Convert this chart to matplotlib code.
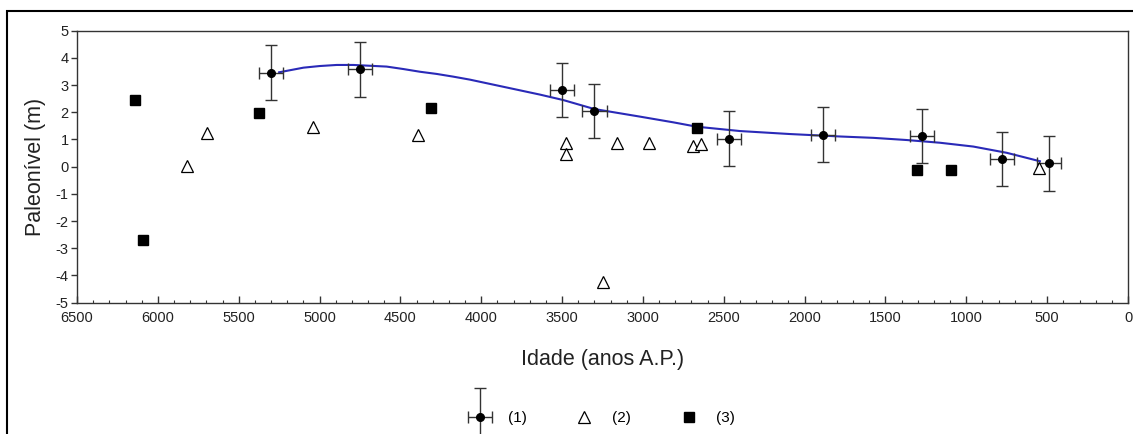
import matplotlib
matplotlib.use("Agg")
import matplotlib.pyplot as plt
from matplotlib.legend_handler import HandlerErrorbar
from matplotlib.patches import Rectangle

plt.rcParams['font.family'] = ['Liberation Sans', 'DejaVu Sans']
plt.rcParams['axes.unicode_minus'] = False

# (1) dated points with error bars
age1 = [5300, 4750, 3500, 3300, 2470, 1885, 1276, 778, 489]
lvl1 = [3.46, 3.58, 2.82, 2.05, 1.03, 1.18, 1.13, 0.28, 0.12]
age1_err = [75, 75, 75, 75, 75, 75, 75, 75, 75]
lvl1_err = [1.0, 1.0, 1.0, 1.0, 1.0, 1.0, 1.0, 1.0, 1.0]

# (2) open triangles
age2 = [5822, 5694, 5039, 4389, 3478, 3478, 3159, 2965, 2689, 2643, 3245, 549]
lvl2 = [0.04, 1.25, 1.47, 1.17, 0.86, 0.47, 0.88, 0.88, 0.77, 0.82, -4.23, -0.06]

# (3) filled squares
age3 = [6141, 6094, 5376, 4313, 2668, 1303, 1097]
lvl3 = [2.45, -2.69, 1.96, 2.17, 1.41, -0.12, -0.12]

# fitted curve
curve_age = [5250, 5100, 5000, 4894, 4791, 4688, 4585, 4482, 4379, 4276, 4173,
             4070, 3637, 3493, 3301, 3018, 2812, 2668, 2400, 2091, 1781, 1575,
             1369, 1163, 957, 750, 545]
curve_lvl = [3.47, 3.64, 3.70, 3.74, 3.74, 3.71, 3.68, 3.59, 3.49, 3.41, 3.31,
             3.20, 2.65, 2.45, 2.12, 1.84, 1.63, 1.47, 1.31, 1.20, 1.11, 1.06,
             0.98, 0.88, 0.74, 0.51, 0.20]

fig = plt.figure(figsize=(11.33, 4.34), dpi=100)
ax = fig.add_axes([0.068, 0.3026, 0.9276, 0.6267])

ax.plot(curve_age, curve_lvl, color='#2a2ab8', lw=1.5, zorder=2)

eb = ax.errorbar(age1, lvl1, xerr=age1_err, yerr=lvl1_err, fmt='o', color='black',
                 ms=5.5, ecolor='#333333', elinewidth=1, capsize=4, capthick=1, zorder=3)
tri, = ax.plot(age2, lvl2, '^', ms=8.5, mfc='white', mec='black', mew=0.9, ls='none', zorder=4)
sq, = ax.plot(age3, lvl3, 's', ms=7, color='black', ls='none', zorder=4)

ax.set_xlim(6500, 0)
ax.set_ylim(-5, 5)
ax.set_xticks(range(6500, -1, -500))
ax.set_xticks(range(6500, -1, -100), minor=True)
ax.set_yticks(range(-5, 6))
ax.tick_params(axis='x', which='major', direction='in', length=5, width=1,
               labelsize=10.5, pad=6, colors='#333333', labelcolor='#222222')
ax.tick_params(axis='x', which='minor', direction='in', length=2.5, width=0.8, colors='#333333')
ax.tick_params(axis='y', direction='out', length=4, width=1, labelsize=10.5,
               pad=2, colors='#333333', labelcolor='#222222')
for s in ax.spines.values():
    s.set_color('#333333')
    s.set_linewidth(1)

ax.set_xlabel('Idade (anos A.P.)', fontsize=15.5, labelpad=17, color='#222222')
ax.set_ylabel('Paleonível (m)', fontsize=15.5, labelpad=7, color='#222222')

fig.legend([eb, tri, sq], ['(1)', '(2)', '(3)'], loc='center',
           bbox_to_anchor=(600 / 1133, 0.037), ncol=3, frameon=False, fontsize=11,
           handlelength=2, handletextpad=0.8, columnspacing=2.8, numpoints=1,
           handler_map={eb: HandlerErrorbar(xerr_size=0.8, yerr_size=1.9)})

fig.patches.append(Rectangle((7 / 1133, -0.05), 1.2, 1 - 11 / 434 + 0.05,
                             transform=fig.transFigure, fill=False,
                             edgecolor='black', lw=1.5))

fig.savefig('out.png', dpi=100)
